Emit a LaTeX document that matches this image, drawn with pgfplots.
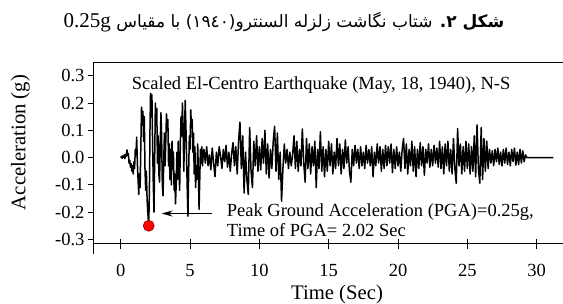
\documentclass[border=0pt]{standalone}
\usepackage{fontspec}
\setmainfont{Liberation Serif}
\newfontfamily\fa[Script=Arabic]{DejaVu Sans}
\TeXXeTstate=1
\usepackage{pgfplots}
\pgfplotsset{compat=1.18}
\usetikzlibrary{arrows.meta}
\begin{document}
\begin{tikzpicture}
\path[use as bounding box] (-93pt,-59.5pt) rectangle (470pt,243.5pt);
\begin{axis}[name=ax, at={(0,0)}, anchor=south west, scale only axis,
  width=470pt, height=180.8pt,
  xmin=-2, xmax=31.9, ymin=-0.315, ymax=0.348,
  axis x line*=bottom, axis y line*=left,
  axis line style={line width=0.8pt},
  xtick={0,5,10,15,20,25,30}, xticklabels={0,5,10,15,20,25,30},
  ytick={-0.3,-0.2,-0.1,0,0.1,0.2,0.3},
  yticklabels={-0.3,-0.2,-0.1,0.0,0.1,0.2,0.3},
  tick align=outside, major tick length=5pt,
  x tick style={draw=none}, y tick style={line width=0.8pt,black},
  ticklabel style={font=\fontsize{18.5}{20}\selectfont},
  xticklabel style={yshift=-12pt},
  clip=false]
\addplot[black, line width=1.5pt, line join=round] coordinates {
(0.00,0.000)(0.05,0.004)(0.10,-0.003)(0.15,0.006)(0.20,0.002)(0.25,0.010)(0.30,-0.004)(0.35,0.012)(0.40,0.005)(0.45,0.028)
(0.50,0.008)(0.55,0.015)(0.60,-0.020)(0.65,-0.010)(0.70,-0.035)(0.75,-0.022)(0.80,-0.050)(0.85,-0.030)(0.90,-0.060)(0.95,-0.015)
(1.00,-0.040)(1.05,0.030)(1.10,0.010)(1.15,0.075)(1.20,-0.020)(1.25,-0.080)(1.30,-0.135)(1.35,-0.060)(1.40,-0.110)(1.45,0.040)
(1.50,0.185)(1.55,0.120)(1.60,0.170)(1.65,0.060)(1.70,0.150)(1.75,-0.040)(1.80,-0.120)(1.85,-0.050)(1.90,-0.150)(1.95,-0.200)
(2.02,-0.250)(2.07,-0.120)(2.11,0.100)(2.15,0.236)(2.20,0.150)(2.25,0.230)(2.30,0.050)(2.35,-0.100)(2.40,-0.200)(2.45,0.000)
(2.50,0.200)(2.55,0.120)(2.60,0.180)(2.65,-0.020)(2.70,0.080)(2.75,-0.060)(2.80,-0.090)(2.85,0.050)(2.90,0.165)(2.95,0.080)
(3.00,-0.100)(3.05,-0.140)(3.10,-0.020)(3.15,0.090)(3.20,-0.030)(3.25,0.060)(3.30,0.160)(3.35,0.100)(3.40,0.140)(3.45,-0.030)
(3.50,0.050)(3.55,-0.080)(3.60,0.030)(3.65,-0.100)(3.70,0.060)(3.75,-0.040)(3.80,0.020)(3.85,-0.120)(3.90,-0.060)(3.95,-0.170)
(4.00,-0.100)(4.05,0.020)(4.10,-0.080)(4.15,0.060)(4.20,-0.040)(4.25,-0.120)(4.30,0.050)(4.35,0.150)(4.40,0.080)(4.45,0.200)
(4.50,0.100)(4.55,-0.050)(4.60,0.080)(4.65,0.210)(4.70,0.120)(4.75,0.000)(4.80,-0.120)(4.85,-0.215)(4.90,-0.050)(4.95,0.080)
(5.00,0.030)(5.05,0.175)(5.10,0.110)(5.15,0.140)(5.20,0.020)(5.25,0.090)(5.30,-0.060)(5.35,0.040)(5.40,-0.110)(5.45,-0.030)
(5.50,-0.080)(5.55,0.050)(5.60,-0.050)(5.65,-0.190)(5.70,-0.080)(5.75,0.030)(5.80,-0.020)(5.85,0.040)(5.90,-0.030)(5.95,0.020)
(6.0,0.030)(6.1,-0.020)(6.2,0.040)(6.3,-0.030)(6.4,0.010)(6.5,-0.045)(6.6,0.035)(6.7,-0.020)(6.8,-0.070)(6.9,0.020)
(7.0,-0.030)(7.1,0.040)(7.2,0.005)(7.3,-0.040)(7.4,0.030)(7.5,-0.015)(7.6,0.045)(7.7,-0.035)(7.8,0.020)(7.9,-0.050)
(8.0,0.015)(8.1,0.055)(8.2,-0.030)(8.3,0.040)(8.4,-0.060)(8.5,0.060)(8.6,0.130)(8.7,-0.040)(8.8,0.080)(8.9,-0.130)
(9.0,0.020)(9.1,-0.080)(9.2,-0.135)(9.3,0.110)(9.4,-0.050)(9.5,-0.110)(9.6,0.060)(9.7,-0.030)(9.8,0.080)(9.9,-0.050)
(10.0,0.040)(10.1,-0.045)(10.2,0.070)(10.3,-0.020)(10.4,0.100)(10.5,-0.060)(10.6,0.050)(10.7,-0.075)(10.8,0.030)(10.9,-0.040)
(11.0,0.060)(11.1,0.115)(11.2,-0.050)(11.3,0.090)(11.4,-0.080)(11.5,0.020)(11.6,-0.160)(11.7,-0.040)(11.8,0.050)(11.9,-0.020)
(12.0,0.030)(12.1,-0.040)(12.2,0.020)(12.3,-0.030)(12.4,0.010)(12.5,0.080)(12.6,-0.040)(12.7,0.060)(12.8,-0.050)(12.9,0.030)
(13.0,-0.030)(13.1,0.105)(13.2,-0.020)(13.3,-0.090)(13.4,0.070)(13.5,-0.040)(13.6,0.050)(13.7,-0.060)(13.8,0.040)(13.9,-0.030)
(14.0,0.060)(14.1,-0.110)(14.2,0.030)(14.3,-0.040)(14.4,0.095)(14.5,-0.050)(14.6,0.040)(14.7,-0.070)(14.8,0.030)(14.9,-0.050)
(15.0,0.060)(15.1,-0.030)(15.2,0.050)(15.3,-0.060)(15.4,0.020)(15.5,-0.040)(15.6,0.070)(15.7,-0.030)(15.8,0.050)(15.9,-0.060)
(16.0,0.030)(16.1,-0.040)(16.2,0.065)(16.3,-0.020)(16.4,0.040)(16.5,-0.050)(16.6,-0.090)(16.7,0.030)(16.8,-0.030)(16.9,0.045)
(17.0,-0.020)(17.1,0.030)(17.2,-0.040)(17.3,0.040)(17.4,-0.030)(17.5,0.020)(17.6,-0.040)(17.7,0.045)(17.8,-0.020)(17.9,0.030)
(18.0,-0.030)(18.1,0.040)(18.2,-0.070)(18.3,0.020)(18.4,-0.030)(18.5,0.050)(18.6,-0.020)(18.7,0.040)(18.8,-0.050)(18.9,0.030)
(19.0,-0.040)(19.1,0.045)(19.2,-0.030)(19.3,0.040)(19.4,-0.020)(19.5,0.050)(19.6,-0.055)(19.7,0.030)(19.8,-0.040)(19.9,0.040)
(20.0,-0.030)(20.1,0.020)(20.2,-0.050)(20.3,0.030)(20.4,0.070)(20.5,-0.040)(20.6,0.050)(20.7,-0.060)(20.8,0.030)(20.9,-0.030)
(21.0,0.060)(21.1,-0.050)(21.2,0.040)(21.3,-0.070)(21.4,0.030)(21.5,-0.040)(21.6,0.055)(21.7,-0.030)(21.8,0.040)(21.9,-0.065)
(22.0,0.030)(22.1,-0.020)(22.2,0.050)(22.3,-0.035)(22.4,0.030)(22.5,-0.030)(22.6,0.045)(22.7,-0.020)(22.8,0.035)(22.9,-0.035)
(23.0,0.060)(23.1,-0.040)(23.2,0.040)(23.3,-0.060)(23.4,0.050)(23.5,-0.030)(23.6,0.060)(23.7,-0.050)(23.8,0.030)(23.9,-0.060)
(24.0,0.070)(24.1,-0.040)(24.2,-0.094)(24.3,0.107)(24.4,-0.030)(24.5,0.050)(24.6,-0.060)(24.7,0.040)(24.8,-0.050)(24.9,0.060)
(25.0,-0.040)(25.1,0.050)(25.2,-0.060)(25.3,0.040)(25.4,-0.050)(25.5,0.080)(25.6,-0.070)(25.7,0.120)(25.8,-0.040)(25.9,-0.094)
(26.0,0.110)(26.1,-0.080)(26.2,0.070)(26.3,-0.050)(26.4,0.060)(26.5,-0.040)(26.6,0.030)(26.7,-0.020)(26.8,0.025)(26.9,-0.030)
(27.0,0.030)(27.1,-0.015)(27.2,0.035)(27.3,-0.025)(27.4,0.020)(27.5,-0.030)(27.6,0.030)(27.7,-0.020)(27.8,0.035)(27.9,-0.025)
(28.0,0.020)(28.1,-0.030)(28.2,0.030)(28.3,-0.015)(28.4,0.035)(28.5,-0.028)(28.6,0.020)(28.7,-0.025)(28.8,0.030)(28.9,-0.020)
(29.0,0.025)(29.1,-0.015)(29.2,0.010)(29.3,0.000)(31.2,0.000)
};
\addplot[only marks, mark=*, mark size=5.5pt, mark options={fill=red, draw=red!60!black, line width=0.6pt}] coordinates {(2.02,-0.25)};
\draw[line width=0.8pt, -{Stealth[length=11pt,width=6pt]}] (axis cs:6.56,-0.205) -- (axis cs:2.95,-0.205);
\end{axis}
\foreach \t in {0,5,10,15,20,25,30} \draw[line width=0.8pt] ({(\t+2)*13.8643pt},5pt) -- ++(0,-10pt);
\draw[line width=0.8pt] (0,0) -- (0,-10.5pt);
\draw[line width=0.8pt] (0,180.8pt) -- (470pt,180.8pt);
\node[anchor=base west, inner sep=0, font=\fontsize{18.5}{20}\selectfont] at (38.7pt,153.5pt) {Scaled El-Centro Earthquake (May, 18, 1940), N-S};
\node[anchor=base west, inner sep=0, font=\fontsize{18.5}{20}\selectfont] at (133.7pt,27pt) {Peak Ground Acceleration (PGA)=0.25g,};
\node[anchor=base west, inner sep=0, font=\fontsize{18.5}{20}\selectfont] at (133.7pt,7pt) {Time of PGA= 2.02 Sec};
\node[rotate=90, inner sep=0, font=\fontsize{20.7}{22}\selectfont] at (-72.5pt,101pt) {Acceleration (g)};
\node[inner sep=0, font=\fontsize{20.7}{22}\selectfont] at (244pt,-51.5pt) {Time (Sec)};
\node[anchor=base, inner sep=0, font=\fontsize{17}{20}\selectfont] at (191pt,215.5pt) {\fa\beginR{\bfseries شکل ۲.} شتاب نگاشت زلزله السنترو(۱۹٤۰) با مقیاس \beginL{\rmfamily\fontsize{21}{22}\selectfont 0.25g}\endL\endR};
\end{tikzpicture}
\end{document}
